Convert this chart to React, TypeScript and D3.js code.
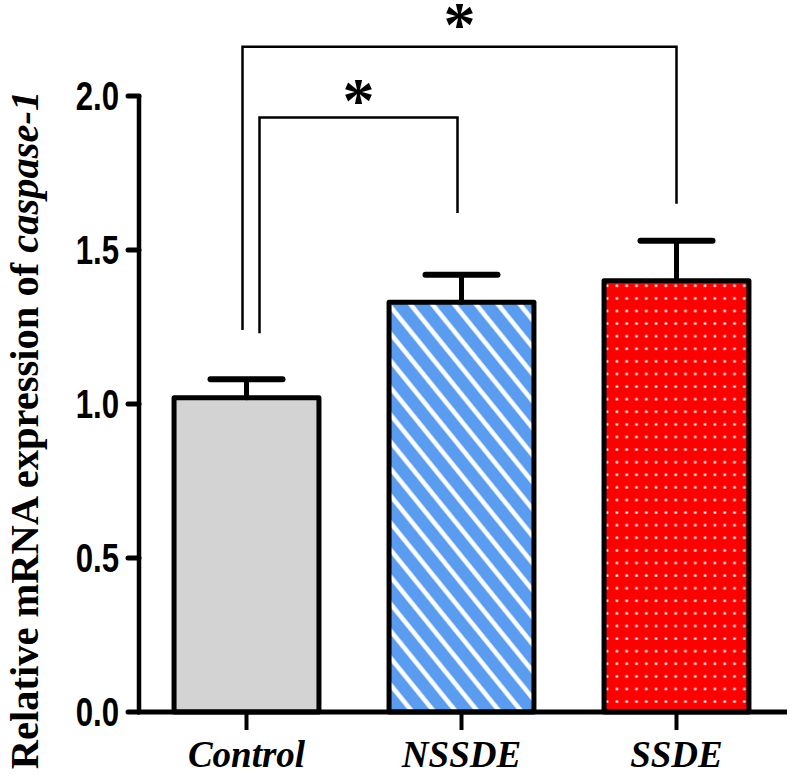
import React from "react";
import * as d3 from "d3";

// Group names and measured means / upper SEM
const groups = ["Control", "NSSDE", "SSDE"];
const means = [1.02, 1.33, 1.4];
const errors = [0.06, 0.09, 0.13];
const yTicks = [0, 0.5, 1.0, 1.5, 2.0];

// Significance brackets: from group, to group, bracket level, leg ends (in data units)
const bracketFrom = [0, 0];
const bracketTo = [1, 2];
const bracketLevel = [1.93, 2.16];
const bracketLegStart = [1.23, 1.24];
const bracketLegEnd = [1.62, 1.65];
const bracketLabels = ["*", "*"];

const W = 791;
const H = 776;

const App: React.FC = () => {
  const x = d3
    .scaleBand<string>()
    .domain(groups)
    .range([139, 784])
    .paddingInner(0.326)
    .paddingOuter(0.163);

  const y = d3.scaleLinear().domain([0, 2]).range([712, 96]);

  const fills = ["#d3d3d3", "url(#hatch)", "url(#dots)"];
  const cx = (i: number) => (x(groups[i]) ?? 0) + x.bandwidth() / 2;

  // bracket leg x offsets relative to band centres
  const legOffsetsLeft = [13, -4];
  const legOffsetsRight = [-4, 0];
  // star baseline offset from the bracket line
  const starDy = [4, -1];

  return (
    <svg
      width={W}
      height={H}
      style={{ position: "absolute", left: 0, top: 0, background: "#fff" }}
    >
      <defs>
        <pattern
          id="hatch"
          patternUnits="userSpaceOnUse"
          width={17}
          height={17}
          patternTransform="rotate(-39)"
        >
          <rect width={17} height={17} fill="#5a9cf0" />
          <line x1={8.5} y1={-1} x2={8.5} y2={18} stroke="#fff" strokeWidth={4.5} />
        </pattern>
        <pattern id="dots" patternUnits="userSpaceOnUse" x={612} y={292} width={9.8} height={12.6}>
          <rect width={9.8} height={12.6} fill="#ff0000" />
          <rect x={3.6} y={5.3} width={2.6} height={2.2} fill="#fff" />
        </pattern>
      </defs>

      {/* bars */}
      {groups.map((g, i) => (
        <rect
          key={g}
          x={x(g)}
          y={y(means[i])}
          width={x.bandwidth()}
          height={y(0) - y(means[i])}
          fill={fills[i]}
          stroke="#000"
          strokeWidth={5}
          strokeLinejoin="round"
        />
      ))}

      {/* error bars */}
      {groups.map((g, i) => (
        <g key={g} stroke="#000" strokeLinecap="round">
          <line x1={cx(i)} x2={cx(i)} y1={y(means[i])} y2={y(means[i] + errors[i])} strokeWidth={5} />
          <line
            x1={cx(i) - 36}
            x2={cx(i) + 36}
            y1={y(means[i] + errors[i])}
            y2={y(means[i] + errors[i])}
            strokeWidth={6}
          />
        </g>
      ))}

      {/* y axis */}
      <g stroke="#000" strokeLinecap="round">
        <line x1={139} x2={139} y1={y(2)} y2={y(0)} strokeWidth={4.5} />
        {yTicks.map((t) => (
          <line key={t} x1={128} x2={139} y1={y(t)} y2={y(t)} strokeWidth={5} />
        ))}
      </g>
      {yTicks.map((t) => (
        <text
          key={t}
          transform={`translate(119,${y(t) + 14}) scale(0.78,1)`}
          textAnchor="end"
          fontFamily="Liberation Sans, Arial, sans-serif"
          fontWeight="bold"
          fontSize={40}
        >
          {d3.format(".1f")(t)}
        </text>
      ))}

      {/* x axis */}
      <g stroke="#000">
        <line x1={137} x2={787} y1={y(0)} y2={y(0)} strokeWidth={5} />
        {groups.map((g, i) => (
          <line key={g} x1={cx(i)} x2={cx(i)} y1={y(0)} y2={730} strokeWidth={4} />
        ))}
      </g>
      {groups.map((g, i) => (
        <text
          key={g}
          x={cx(i)}
          y={767}
          textAnchor="middle"
          fontFamily="Liberation Serif, Times New Roman, serif"
          fontWeight="bold"
          fontStyle="italic"
          fontSize={37}
        >
          {g}
        </text>
      ))}

      {/* y label */}
      <text
        transform={`translate(38,${430}) rotate(-90)`}
        textAnchor="middle"
        fontFamily="Liberation Serif, Times New Roman, serif"
        fontWeight="bold"
        fontSize={40.5}
      >
        Relative mRNA expression of <tspan fontStyle="italic">caspase-1</tspan>
      </text>

      {/* significance brackets */}
      {bracketFrom.map((f, k) => {
        const x1 = cx(f) + legOffsetsLeft[k];
        const x2 = cx(bracketTo[k]) + legOffsetsRight[k];
        const yl = y(bracketLevel[k]);
        return (
          <g key={k}>
            <path
              d={`M${x1},${y(bracketLegStart[k])}V${yl}H${x2}V${y(bracketLegEnd[k])}`}
              fill="none"
              stroke="#000"
              strokeWidth={2.5}
            />
            <text
              x={(x1 + x2) / 2}
              y={yl + starDy[k]}
              textAnchor="middle"
              fontFamily="Liberation Serif, Times New Roman, serif"
              fontWeight="bold"
              fontSize={64}
            >
              {bracketLabels[k]}
            </text>
          </g>
        );
      })}
    </svg>
  );
};

export default App;
